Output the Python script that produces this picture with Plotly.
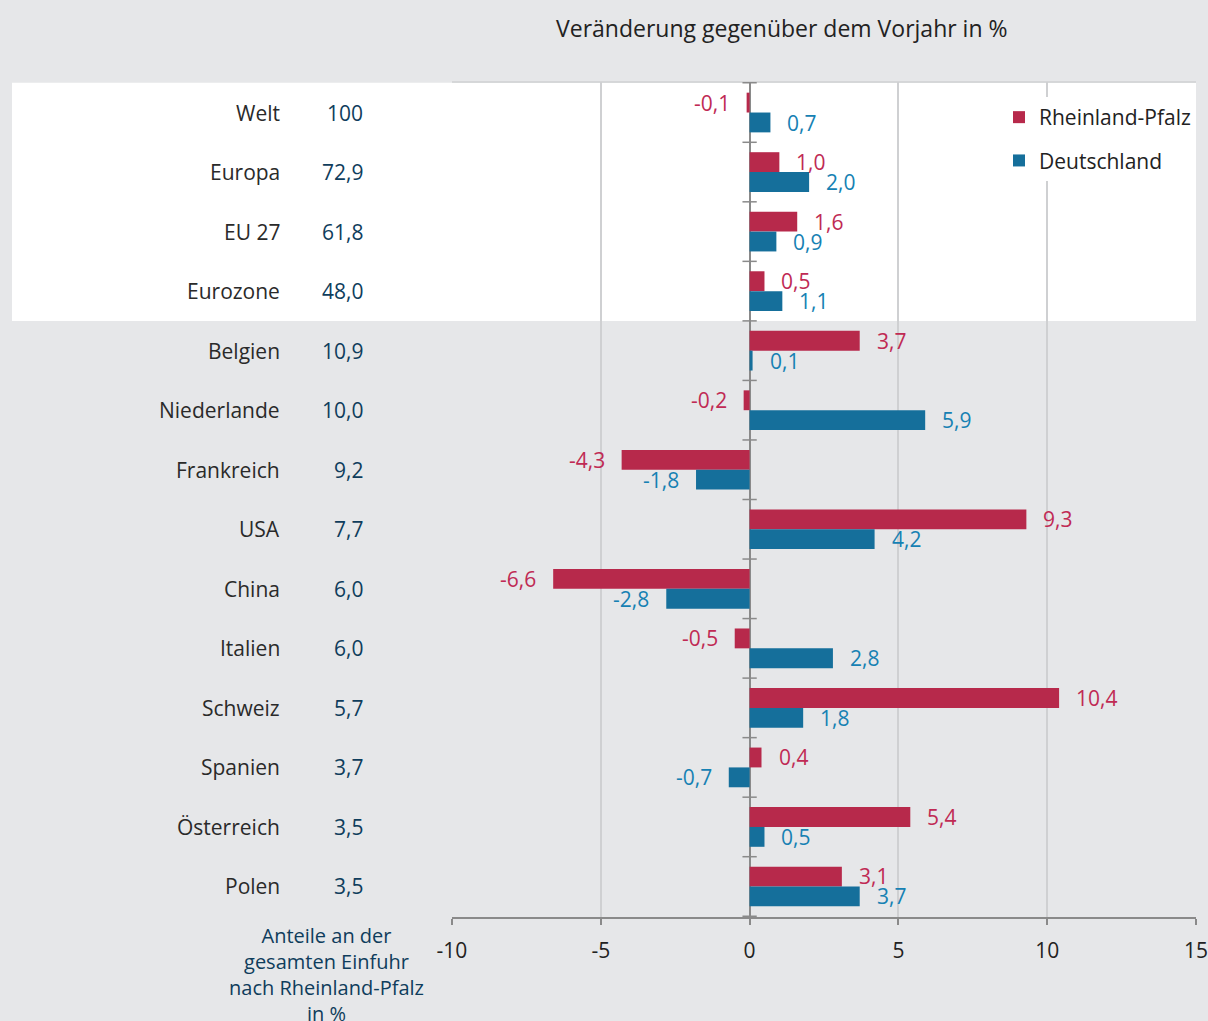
import plotly.graph_objects as go

categories = ["Welt", "Europa", "EU 27", "Eurozone", "Belgien", "Niederlande", "Frankreich",
              "USA", "China", "Italien", "Schweiz", "Spanien", "Österreich", "Polen"]
anteile = ["100", "72,9", "61,8", "48,0", "10,9", "10,0", "9,2", "7,7", "6,0", "6,0",
           "5,7", "3,7", "3,5", "3,5"]
rlp = [-0.1, 1.0, 1.6, 0.5, 3.7, -0.2, -4.3, 9.3, -6.6, -0.5, 10.4, 0.4, 5.4, 3.1]
de = [0.7, 2.0, 0.9, 1.1, 0.1, 5.9, -1.8, 4.2, -2.8, 2.8, 1.8, -0.7, 0.5, 3.7]
x_tickvals = [-10, -5, 0, 5, 10, 15]
x_ticktext = ["-10", "-5", "0", "5", "10", "15"]

RED = "#b7294b"
BLUE = "#156f9b"
RED_TXT = "#c02a54"
BLUE_TXT = "#1681b3"
NAVY = "#0f3d5c"
BG = "#e6e7e9"
FONT = "Open Sans"

W, H = 1208, 1021
L, R, T, B = 452, 12, 82, 104
pw = W - L - R
ph = H - T - B


def px_x(p):
    return (p - L) / pw


def px_y(p):
    return (H - B - p) / ph


def fmt(v):
    return f"{v:.1f}".replace(".", ",")


fig = go.Figure()
fig.add_trace(go.Bar(name="Rheinland-Pfalz", y=categories, x=rlp, orientation="h",
                     marker=dict(color=RED, line=dict(width=0)), legendgroup="a"))
fig.add_trace(go.Bar(name="Deutschland", y=categories, x=de, orientation="h",
                     marker=dict(color=BLUE, line=dict(width=0)), legendgroup="b"))

annotations = []
for i, c in enumerate(categories):
    annotations.append(dict(x=px_x(282), xref="paper", y=c, yref="y", text=c,
                            xanchor="right", yanchor="middle", showarrow=False,
                            font=dict(family=FONT, size=21, color="#2a2a2a")))
    annotations.append(dict(x=px_x(365), xref="paper", y=c, yref="y", text=anteile[i],
                            xanchor="right", yanchor="middle", showarrow=False,
                            font=dict(family=FONT, size=21, color=NAVY)))
    for vals, col, ys in ((rlp, RED_TXT, 10), (de, BLUE_TXT, -10)):
        v = vals[i]
        annotations.append(dict(x=v, xref="x", y=c, yref="y", text=fmt(v),
                                xanchor="left" if v >= 0 else "right",
                                xshift=15 if v >= 0 else -15, yshift=ys,
                                yanchor="middle", showarrow=False,
                                font=dict(family=FONT, size=21, color=col)))

annotations.append(dict(x=px_x(782), xref="paper", y=px_y(28), yref="paper",
                        text="Veränderung gegenüber dem Vorjahr in %",
                        xanchor="center", yanchor="middle", showarrow=False,
                        font=dict(family=FONT, size=23, color="#222222")))
annotations.append(dict(x=px_x(326), xref="paper", y=px_y(920), yref="paper",
                        text="Anteile an der<br>gesamten Einfuhr<br>nach Rheinland-Pfalz<br>in %",
                        xanchor="center", yanchor="top", align="center", showarrow=False,
                        font=dict(family=FONT, size=20, color=NAVY)))

shapes = [
    dict(type="rect", xref="paper", yref="y", x0=px_x(12), x1=1, y0=-0.5, y1=3.5,
         fillcolor="white", line=dict(width=0), layer="below"),
    dict(type="line", xref="paper", yref="paper", x0=0, x1=1, y0=1, y1=1,
         line=dict(color="#cfd0d2", width=1.5), layer="below"),
]
for i in range(len(categories) + 1):
    shapes.append(dict(type="line", xref="x", yref="y", x0=-0.24, x1=0.24,
                       y0=i - 0.5, y1=i - 0.5, line=dict(color="#8a8a8a", width=1.5)))

fig.update_layout(
    width=W, height=H,
    margin=dict(l=L, r=R, t=T, b=B, autoexpand=False),
    paper_bgcolor=BG, plot_bgcolor="rgba(0,0,0,0)",
    barmode="group", bargap=0.333, bargroupgap=0,
    font=dict(family=FONT, size=20, color="#222222"),
    showlegend=True,
    legend=dict(x=px_x(999), y=px_y(97), xanchor="left", yanchor="top",
                bgcolor="white", traceorder="grouped", tracegroupgap=13,
                itemwidth=30, font=dict(family=FONT, size=21, color="#222222")),
    xaxis=dict(range=[-10, 15], tickvals=x_tickvals, ticktext=x_ticktext,
               showgrid=True, gridcolor="#cfd0d2", automargin=False,
               gridwidth=1.5, zeroline=True, zerolinecolor="#8a8a8a", zerolinewidth=2,
               showline=True, linecolor="#8a8a8a", linewidth=2, ticks="outside",
               ticklen=6, tickcolor="#8a8a8a", tickwidth=1.5, ticklabelstandoff=8,
               ticklabeloverflow="allow",
               tickfont=dict(family=FONT, size=21, color="#222222"), fixedrange=True),
    yaxis=dict(autorange="reversed", showticklabels=False, showgrid=False,
               zeroline=False, showline=False, ticks="", fixedrange=True,
               automargin=False),
    annotations=annotations,
    shapes=shapes,
)

fig.write_html("out.html", config={"displayModeBar": False},
               post_script="document.body.style.margin='0';")
